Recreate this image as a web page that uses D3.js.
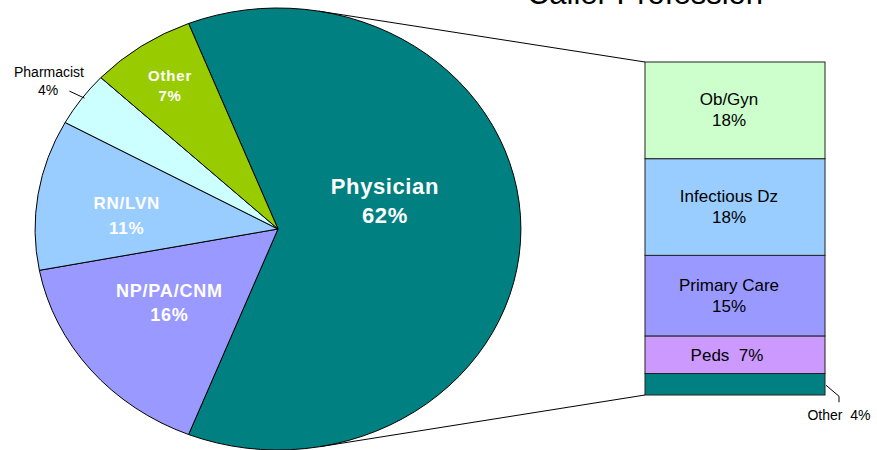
<!DOCTYPE html>
<html>
<head>
<title>Caller Profession</title>
<script src="https://d3js.org/d3.v7.min.js" charset="utf-8"></script>
<style>
body { margin: 0; background: white; }
svg { display: block; font-family: "Liberation Sans", Arial, sans-serif; }
.inlbl { fill: white; font-weight: bold; text-anchor: middle; }
</style>
</head>
<body>
<script>
// pie data
var pieNames = ["Physician", "NP/PA/CNM", "RN/LVN", "Pharmacist", "Other"];
var pieValues = [62, 16, 11, 4, 7];
var pieColors = ["#008080", "#9999ff", "#99ccff", "#ccffff", "#99cc00"];

// breakdown of physician slice (bottom to top)
var barNames = ["Other", "Peds", "Primary Care", "Infectious Dz", "Ob/Gyn"];
var barValues = [4, 7, 15, 18, 18];
var barColors = ["#008080", "#cc99ff", "#9999ff", "#99ccff", "#ccffcc"];

var width = 877, height = 450;
var svg = d3.select("body").append("svg")
  .attr("width", width)
  .attr("height", height);

// title, partly cut off at top like the original
svg.append("text")
  .attr("x", 645).attr("y", 4)
  .attr("text-anchor", "middle")
  .style("font-size", "31px")
  .text("Caller Profession");

// ellipse geometry for the pie
var cx = 278, cy = 229, rx = 243, ry = 221;
var total = d3.sum(pieValues);
var start = Math.PI / 2 - pieValues[0] / total * Math.PI;

var pie = d3.pie().sort(null).value(function(d) { return d; })
  .startAngle(start).endAngle(start + 2 * Math.PI);
var arcs = pie(pieValues);
var arc = d3.arc().innerRadius(0).outerRadius(1);

var g = svg.append("g")
  .attr("transform", "translate(" + cx + "," + cy + ") scale(" + rx + "," + ry + ")");

g.selectAll("path")
  .data(arcs)
  .enter()
  .append("path")
  .attr("d", arc)
  .attr("fill", function(d, i) { return pieColors[i]; })
  .attr("stroke", "#000")
  .attr("stroke-width", 1)
  .attr("vector-effect", "non-scaling-stroke");

// point on the ellipse at pie angle a, radius factor r
function onPie(a, r) {
  return [cx + rx * r * Math.sin(a), cy - ry * r * Math.cos(a)];
}

// inside labels: radius factor + vertical nudge
var labelR = [0.44, 0.58, 0.63, 0, 0.79];
var labelDy = [-28, -8, 8, 0, 1];
var labelSize = [22, 18, 17, 0, 15];
var labelGap = [29, 24, 25, 0, 20];

arcs.forEach(function(d, i) {
  if (i === 3) return;
  var mid = (d.startAngle + d.endAngle) / 2;
  var p = onPie(mid, labelR[i]);
  var t = svg.append("text")
    .attr("class", "inlbl")
    .style("font-size", labelSize[i] + "px")
    .style("letter-spacing", (i === 0 ? 0.6 : 0.8) + "px")
    .attr("x", p[0]).attr("y", p[1] + labelDy[i]);
  t.append("tspan").attr("x", p[0]).attr("dy", -labelGap[i] / 2 + labelSize[i] * 0.35).text(pieNames[i]);
  t.append("tspan").attr("x", p[0]).attr("dy", labelGap[i]).text(pieValues[i] + "%");
});

// pharmacist outside label with leader
(function() {
  var d = arcs[3];
  var mid = (d.startAngle + d.endAngle) / 2;
  var p = onPie(mid, 1.0);
  svg.append("line")
    .attr("x1", p[0] + 3).attr("y1", p[1] - 1)
    .attr("x2", p[0] - 12).attr("y2", p[1] - 8)
    .attr("stroke", "#000").attr("stroke-width", 1);
  var t = svg.append("text").style("font-size", "14px").attr("text-anchor", "middle");
  t.append("tspan").attr("x", 49).attr("y", 77).text(pieNames[3]);
  t.append("tspan").attr("x", 48).attr("y", 95).text(pieValues[3] + "%");
})();

// bar of pie
var barX = 645, barW = 180;
var y = d3.scaleLinear().domain([0, d3.sum(barValues)]).range([395, 62]);
var stack = [];
var acc = 0;
barValues.forEach(function(v, i) {
  stack.push({ name: barNames[i], value: v, y0: acc, y1: acc + v, color: barColors[i] });
  acc += v;
});

var bar = svg.append("g");
bar.selectAll("rect")
  .data(stack)
  .enter()
  .append("rect")
  .attr("x", barX)
  .attr("width", barW)
  .attr("y", function(d) { return y(d.y1); })
  .attr("height", function(d) { return y(d.y0) - y(d.y1); })
  .attr("fill", function(d) { return d.color; })
  .attr("stroke", "#222")
  .attr("stroke-width", 1);

var lx = barX + barW / 2 - 6;
stack.forEach(function(d, i) {
  if (i === 0) return;
  var mid = (y(d.y0) + y(d.y1)) / 2;
  if (d.name === "Peds") {
    bar.append("text").attr("x", lx - 2).attr("y", mid + 6)
      .attr("text-anchor", "middle").style("font-size", "17px")
      .attr("xml:space", "preserve")
      .text(d.name + "  " + d.value + "%");
  } else {
    var t = bar.append("text").attr("text-anchor", "middle").style("font-size", "17px");
    t.append("tspan").attr("x", lx).attr("y", mid - 5).text(d.name);
    t.append("tspan").attr("x", lx).attr("y", mid + 16).text(d.value + "%");
  }
});

// small "Other" segment label with leader
var oth = stack[0];
var oy = (y(oth.y0) + y(oth.y1)) / 2;
svg.append("path")
  .attr("d", "M" + (barX + barW + 1) + "," + (oy + 1) + " L" + (barX + barW + 14) + "," + (oy + 12) + " L" + (barX + barW + 14) + "," + (oy + 18))
  .attr("fill", "none").attr("stroke", "#000").attr("stroke-width", 1);
svg.append("text").attr("x", 839).attr("y", 420)
  .attr("text-anchor", "middle").style("font-size", "14px")
  .attr("xml:space", "preserve")
  .text(oth.name + "  " + oth.value + "%");

// connector lines: tangent from bar corners to the ellipse
function tangent(px, py, upper) {
  var u = (px - cx) / rx, v = (py - cy) / ry;
  var dist = Math.sqrt(u * u + v * v);
  var th = Math.atan2(v, u);
  var off = Math.acos(1 / dist);
  var t = upper ? th - off : th + off;
  return [cx + rx * Math.cos(t), cy + ry * Math.sin(t)];
}
[[y(d3.sum(barValues)), true], [y(0), false]].forEach(function(c) {
  var p = tangent(barX, c[0], c[1]);
  svg.append("line")
    .attr("x1", p[0]).attr("y1", p[1])
    .attr("x2", barX).attr("y2", c[0])
    .attr("stroke", "#000").attr("stroke-width", 1);
});
</script>
</body>
</html>
